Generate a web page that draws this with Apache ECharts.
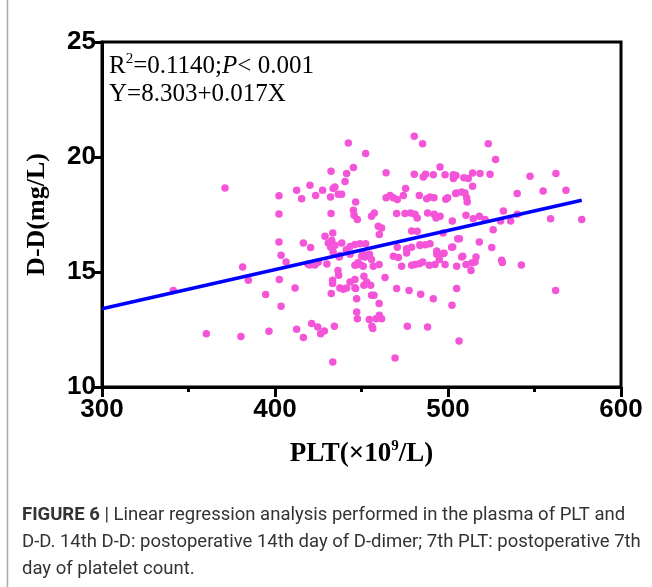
<!DOCTYPE html>
<html><head><meta charset="utf-8">
<script src="https://cdn.jsdelivr.net/npm/echarts@6/dist/echarts.min.js"></script>
<style>html,body{margin:0;padding:0;background:#fff;}#c{width:652px;height:587px;}</style>
</head><body><div id="c"></div>
<script>
// PLT (x10^9/L) values of each patient
const pltValues = [
341.2,360.3,371.1,380.3,381.3,384.6,394.6,396.5,402.3,402.3,402.3,403.5,406.4,402.5,403.5,411.6,412.5,416.4,421.2,424.7,
426.4,428.5,434.3,433.4,432.5,433.3,433.3,436.4,436.8,437.5,439.5,441.4,443.4,446.2,446.6,447.2,447.2,447.6,446.2,
419,420,423,425,430,437.2,448,
449.1,451,452,450.1,455.8,456.8,460.2,468.4,471.3,473.2,476.1,479,480.9,483.4,485.4,489.2,492.5,493.5,495,497.3,498.3,
505,507.9,510.4,513.7,515.6,516.2,513.3,531.4,542.4,562.2,
463.6,451.4,455.3,453,451.4,446.2,
455.8,457.2,460.2,470.3,477.5,484.2,491.5,505,502.3,
454.5,458.4,460.3,461.6,456,456.5,476.5,488.2,506.4,469.4,
480.5,485.3,442.4,452.4,432.4,441.4,445.3,440.5,464.2,480.5,485.7,487,491.5,495.4,498.3,503.1,
412.5,415.4,420.2,423.5,427.5,432.1,433.6,434.6,436.6,438.5,
432.4,446.6,445.3,445.7,447.6,455.8,457.4,459.7,461.6,460.3,
464.2,466.5,468.4,470.7,474.2,475.5,483.4,487.7,489.6,491.9,498.7,499.8,504.4,
470.3,475.1,478.4,480.9,482.2,488.2,492,493.1,502.5,
479,482.2,497.2,505.6,
483.8,487,489.6,493.5,
428.9,433.4,416.4,420.6,430.8,432.8,432.2,434.7,438.6,443.4,446.2,449.1,452.4,433.6,437.4,441.2,443.4,450.7,454.6,
470.7,476.1,479,483.8,497.7,502.1,
523.3,527.5,504.6,503.1,509.2,511.7,514.2,518.5,524.3,547.4,562.4,514.2,505,507.9,509.8,510.8,511.1,540,555,568.2,
495.4,510.4,514.6,518.1,521.4,532,530.4,536.2,540,559.3,577.3,526.1,506.6,518.1,525.3,502.7,508.5,531
];
// D-D (mg/L) values of each patient, same order
const ddValues = [
14.2,12.32,18.65,12.2,15.22,14.64,14.02,12.42,18.32,17.52,16.3,15.73,15.43,14.67,13.51,14.3,12.51,12.15,12.76,12.61,
12.32,12.43,12.64,11.09,14.06,14.64,14.5,15.07,14.86,14.3,14.25,14.3,14.57,14.67,14.28,13.84,13.26,12.97,15.29,
15.35,15.3,15.3,15.42,15.35,15.65,15.4,
15.33,15.25,15.65,15.68,15.54,15.25,15.33,15.68,15.63,15.25,15.83,15.29,15.33,15.36,15.43,15.29,15.33,15.77,15.54,15.8,15.33,
15.25,15.65,15.33,15.39,15.43,15.65,15.07,15.41,15.3,14.2,
14.76,14.81,14.42,14.57,14.42,14.32,
13.99,13.99,13.63,14.28,14.2,14.03,13.84,14.28,13.55,
12.93,12.97,13.12,12.97,12.64,12.54,12.64,12.61,12.0,11.26,
20.9,20.58,20.61,20.15,19.38,19.28,19.54,18.94,19.32,19.25,19.13,19.25,19.23,19.57,19.23,19.23,
18.55,18.19,18.77,18.33,18.55,18.26,18.63,18.7,18.38,18.38,
17.54,18.04,17.68,17.47,17.28,17.42,17.57,16.99,16.91,16.63,
18.23,18.33,18.23,18.15,18.33,18.63,18.33,18.19,18.26,18.23,18.16,18.23,18.41,
17.54,17.54,17.57,17.51,17.35,17.57,17.51,17.35,17.22,
16.78,16.77,16.7,16.45,
16.19,16.19,16.23,15.91,
16.55,16.7,16.26,16.06,16.26,16.37,16.08,16.16,16.26,16.11,16.2,16.23,16.23,15.87,15.72,15.97,15.77,15.83,15.77,
16.08,16.01,16.08,16.15,15.82,16.08,
20.58,19.89,19.2,19.06,19.1,19.06,19.3,19.28,19.25,19.16,19.28,18.73,18.43,18.48,18.43,18.23,18.04,18.41,18.52,18.55,
17.42,17.47,17.32,17.42,17.28,17.65,17.22,17.22,17.51,17.32,17.28,16.84,16.45,16.3,16.06,16.09,15.68,15.51
];
// Regression: Y = 8.303 + 0.017X, drawn over the data range
const fitIntercept = 8.303;
const fitSlope = 0.017;
const fitX = [300, 577.3];
const xTicks = [300, 400, 500, 600];
const yTicks = [10, 15, 20, 25];

const points = pltValues.map((x, i) => [x, ddValues[i]]);
const fitLine = fitX.map(x => [x, fitIntercept + fitSlope * x]);

const chart = echarts.init(document.getElementById('c'), null, {renderer: 'canvas'});
const cap = {fontFamily: 'Roboto', fontSize: 18.5, fill: '#333'};
chart.setOption({
  animation: false,
  backgroundColor: '#fff',
  grid: {left: 102, right: 31, top: 42, bottom: 200, show: true, borderColor: '#000', borderWidth: 3},
  xAxis: {
    type: 'value', min: 300, max: 600, interval: 100,
    name: '{a|PLT(×10}{s|9}{a|/L)}', nameLocation: 'middle', nameGap: 52,
    nameTextStyle: {rich: {
      a: {fontFamily: 'Liberation Serif', fontWeight: 'bold', fontSize: 27, lineHeight: 30, color: '#000'},
      s: {fontFamily: 'Liberation Serif', fontWeight: 'bold', fontSize: 15, lineHeight: 15, color: '#000', verticalAlign: 'top'}
    }},
    axisLine: {lineStyle: {color: '#000', width: 3}},
    axisTick: {length: 10, lineStyle: {width: 3, color: '#000'}},
    minorTick: {show: true, splitNumber: 2, length: 5, lineStyle: {width: 3, color: '#000'}},
    splitLine: {show: false},
    axisLabel: {fontFamily: 'Liberation Sans', fontWeight: 'bold', fontSize: 26, color: '#000', margin: 10}
  },
  yAxis: {
    type: 'value', min: 10, max: 25, interval: 5,
    name: 'D-D(mg/L)', nameLocation: 'middle', nameGap: 52, nameRotate: 90,
    nameTextStyle: {fontFamily: 'Liberation Serif', fontWeight: 'bold', fontSize: 26, color: '#000'},
    axisLine: {lineStyle: {color: '#000', width: 3}},
    axisTick: {length: 10, lineStyle: {width: 3, color: '#000'}},
    splitLine: {show: false},
    axisLabel: {fontFamily: 'Liberation Sans', fontWeight: 'bold', fontSize: 26, color: '#000', margin: 6}
  },
  series: [
    {type: 'scatter', data: points, symbolSize: 7.5, itemStyle: {color: '#F454D8', opacity: 1}, z: 2},
    {type: 'line', data: fitLine, showSymbol: false, symbol: 'none', lineStyle: {color: '#0000FF', width: 3.5}, z: 3}
  ],
  graphic: [
    {type: 'line', shape: {x1: 7.5, y1: 0, x2: 7.5, y2: 587}, style: {stroke: '#aaa', lineWidth: 1.5}},
    {type: 'text', left: 109, top: 52, style: {
      text: '{a|R}{s|2}{a|=0.1140;}{i|P}{a|< 0.001}',
      rich: {
        a: {fontFamily: 'Liberation Serif', fontSize: 25, lineHeight: 28, fill: '#000'},
        i: {fontFamily: 'Liberation Serif', fontStyle: 'italic', fontSize: 25, lineHeight: 28, fill: '#000'},
        s: {fontFamily: 'Liberation Serif', fontSize: 15, lineHeight: 15, fill: '#000', verticalAlign: 'top'}
      }}},
    {type: 'text', left: 109, top: 82, style: {text: 'Y=8.303+0.017X', fontFamily: 'Liberation Serif', fontSize: 25, fill: '#000'}},
    {type: 'text', left: 22, top: 506, style: {
      text: '{b|FIGURE 6}{n| | Linear regression analysis performed in the plasma of PLT and}',
      rich: {b: {fontFamily: 'Roboto', fontWeight: 'bold', fontSize: 18.5, fill: '#333'}, n: {fontFamily: 'Roboto', fontSize: 18.5, fill: '#333'}}
    }},
    {type: 'text', left: 22, top: 533, style: Object.assign({text: 'D-D. 14th D-D: postoperative 14th day of D-dimer; 7th PLT: postoperative 7th'}, cap)},
    {type: 'text', left: 22, top: 560, style: Object.assign({text: 'day of platelet count.'}, cap)}
  ]
});
</script></body></html>
